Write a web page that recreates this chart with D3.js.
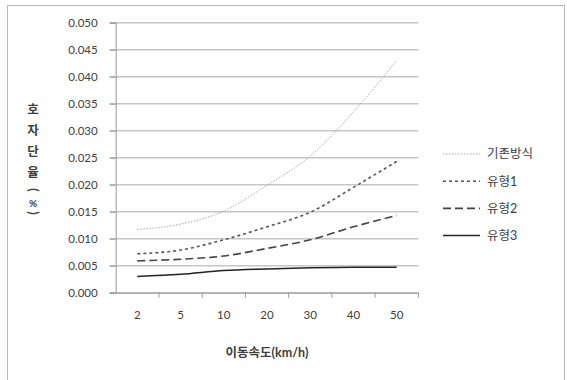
<!DOCTYPE html>
<html lang="ko">
<head>
<meta charset="utf-8">
<script src="https://cdn.jsdelivr.net/npm/d3@7"></script>
<style>
  body { margin: 0; background: #fff; }
  text { font-family: Lato, "Noto Sans CJK KR", sans-serif; fill: #404040; }
</style>
</head>
<body>
<script>
  const speeds = ['2', '5', '10', '20', '30', '40', '50']
  const baseRate = [0.0117, 0.0127, 0.0151, 0.0199, 0.0253, 0.0335, 0.0430]
  const type1 = [0.0072, 0.0079, 0.0098, 0.0122, 0.0149, 0.0195, 0.0243]
  const type2 = [0.0059, 0.0062, 0.0068, 0.0082, 0.0098, 0.0122, 0.0143]
  const type3 = [0.0030, 0.0034, 0.0041, 0.0044, 0.0046, 0.0047, 0.0047]
  const seriesNames = ['기존방식', '유형1', '유형2', '유형3']
  const yTicks = [0, 0.005, 0.01, 0.015, 0.02, 0.025, 0.03, 0.035, 0.04, 0.045, 0.05]

  const series = [
    {name: seriesNames[0], values: baseRate, color: '#a8a8a8', width: 1, dash: '1.5,1.5'},
    {name: seriesNames[1], values: type1, color: '#555', width: 1.6, dash: '3,3'},
    {name: seriesNames[2], values: type2, color: '#444', width: 1.6, dash: '8,4'},
    {name: seriesNames[3], values: type3, color: '#222', width: 1.5, dash: null}
  ]

  const w = 567, h = 380
  const plotLeft = 115.7, plotRight = 418.3, plotTop = 22.7, plotBottom = 292.7

  const svg = d3.select('body').append('svg')
    .attr('width', w)
    .attr('height', h)

  // outer chart border
  svg.append('rect')
    .attr('x', 7.5).attr('y', 5.5)
    .attr('width', 557).attr('height', 380)
    .attr('fill', 'none')
    .attr('stroke', '#b8b8b8')

  const x = d3.scaleBand().domain(speeds).range([plotLeft, plotRight])
  const y = d3.scaleLinear().domain([0, 0.05]).range([plotBottom, plotTop])

  // gridlines
  svg.append('g')
    .selectAll('line')
    .data(yTicks)
    .enter()
    .append('line')
    .attr('x1', plotLeft - 6).attr('x2', plotRight)
    .attr('y1', d => y(d)).attr('y2', d => y(d))
    .style('stroke', '#c6c6c6')
    .style('stroke-width', 1.5)

  // y axis
  const yAxis = svg.append('g')
    .attr('transform', `translate(${plotLeft},0)`)
    .call(d3.axisLeft(y).tickValues(yTicks).tickFormat(d3.format('.3f')).tickSize(6).tickPadding(12))
  yAxis.select('.domain').attr('stroke', '#999')
  yAxis.selectAll('.tick line').attr('stroke', '#999')
  yAxis.selectAll('text').style('font-size', '11.5px').attr('fill', '#404040')

  // x axis
  const xAxis = svg.append('g')
    .attr('transform', `translate(0,${plotBottom})`)
    .call(d3.axisBottom(x).tickSize(0).tickPadding(18))
  xAxis.select('.domain').attr('stroke', '#999')
  xAxis.selectAll('text').style('font-size', '11.5px').attr('fill', '#404040')
  // ticks at the category boundaries
  xAxis.selectAll('.bound')
    .data(speeds)
    .enter()
    .append('line')
    .attr('x1', d => x(d) + x.bandwidth()).attr('x2', d => x(d) + x.bandwidth())
    .attr('y1', 0).attr('y2', 5)
    .attr('stroke', '#999')

  // lines
  const line = d3.line()
    .x((d, i) => x(speeds[i]) + x.bandwidth() / 2)
    .y(d => y(d))
    .curve(d3.curveMonotoneX)

  svg.selectAll('.series')
    .data(series)
    .enter()
    .append('path')
    .attr('d', d => line(d.values))
    .attr('fill', 'none')
    .attr('stroke', d => d.color)
    .attr('stroke-width', d => d.width)
    .attr('stroke-dasharray', d => d.dash)

  // legend
  const legend = svg.selectAll('.legend')
    .data(series)
    .enter()
    .append('g')
    .attr('transform', (d, i) => `translate(443,${154 + i * 27.2})`)
  legend.append('line')
    .attr('x1', 0).attr('x2', 37)
    .attr('stroke', d => d.color)
    .attr('stroke-width', d => d.width)
    .attr('stroke-dasharray', d => d.dash)
  legend.append('text')
    .attr('x', 44).attr('dy', '0.35em')
    .style('font-size', '12.5px')
    .text(d => d.name)

  // axis titles
  svg.append('text')
    .attr('x', 267).attr('y', 353)
    .attr('text-anchor', 'middle').attr('dy', '0.35em')
    .style('font-size', '12.5px').style('font-weight', 'bold')
    .text('이동속도(km/h)')

  const yTitle = ['호', '자', '단', '율', '(', '%', ')']
  const yTitlePos = [110, 131, 152, 173, 190, 203, 213]
  svg.append('g').selectAll('text')
    .data(yTitle)
    .enter()
    .append('text')
    .attr('text-anchor', 'middle').attr('dy', '0.35em')
    .attr('transform', (d, i) => d === '(' || d === ')'
      ? `translate(33,${yTitlePos[i]}) rotate(90)`
      : `translate(33,${yTitlePos[i]})`)
    .style('font-size', d => d === '%' ? '10px' : '12.5px')
    .style('font-weight', 'bold')
    .text(d => d)
</script>
</body>
</html>
